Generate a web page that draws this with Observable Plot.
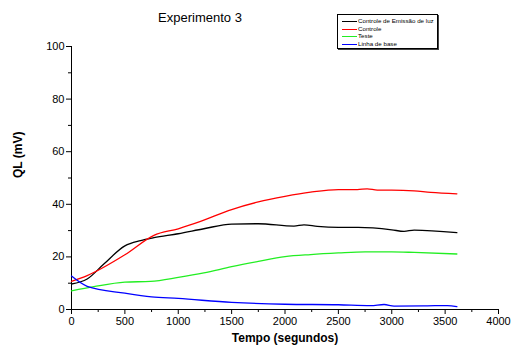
<!DOCTYPE html>
<html>
<head>
<meta charset="utf-8">
<script src="https://cdn.jsdelivr.net/npm/d3@7"></script>
<script src="https://cdn.jsdelivr.net/npm/@observablehq/plot@0.6"></script>
<style>
  body { margin: 0; background: #fff; font-family: "Liberation Sans", Arial, sans-serif; }
  #wrap { position: relative; width: 512px; height: 351px; }
  #title { position: absolute; left: 0; width: 400px; top: 10px; text-align: center; font-size: 13px; color: #000; }
  #legend { position: absolute; left: 337px; top: 14px; width: 99px; height: 33px; border: 1px solid #000;
            box-shadow: 1px 1px 0 #444; font-size: 6.2px; background: #fff; }
  .row { position: absolute; left: 4px; height: 8px; line-height: 8px; white-space: nowrap; }
  .sw { display: inline-block; width: 15px; height: 0; border-top: 1.2px solid; vertical-align: middle; margin-right: 1px; }
</style>
</head>
<body>
<div id="wrap">
  <div id="title">Experimento 3</div>
  <div id="legend"></div>
</div>
<script>
// Time samples (s) and readings (mV) for each series
const tempoControleEmissao = [0, 147, 303, 500, 647, 772, 1000, 1240, 1500, 1750, 2084, 2178, 2303, 2500, 2687, 3000, 3115, 3210, 3610];
const controleEmissao      = [9.7, 11.6, 17.3, 24.2, 26.2, 27.3, 28.8, 30.7, 32.5, 32.6, 31.7, 32.2, 31.6, 31.2, 31.2, 30.3, 29.7, 30.2, 29.2];

const tempoControle = [0, 147, 500, 772, 1000, 1209, 1500, 1750, 2000, 2240, 2500, 2678, 2770, 2865, 3000, 3210, 3365, 3610];
const controle      = [10.7, 12.9, 20.8, 28.2, 30.7, 33.5, 38.0, 40.9, 43.0, 44.6, 45.6, 45.6, 45.9, 45.4, 45.4, 45.1, 44.5, 44.0];

const tempoTeste = [0, 210, 500, 740, 1000, 1240, 1500, 1750, 2000, 2240, 2500, 2750, 3000, 3210, 3610];
const teste      = [7.1, 8.7, 10.4, 10.7, 12.2, 13.9, 16.3, 18.3, 20.1, 20.9, 21.5, 21.9, 21.9, 21.7, 21.1];

const tempoBase = [0, 147, 500, 750, 1000, 1500, 2000, 2500, 2803, 2928, 3022, 3334, 3522, 3610];
const linhaBase = [12.7, 8.8, 6.2, 4.8, 4.2, 2.7, 2.0, 1.8, 1.5, 1.9, 1.3, 1.4, 1.5, 1.1];

const seriesNames  = ["Controle de Emissão de luz", "Controle", "Teste", "Linha de base"];
const seriesColors = ["#000000", "#ff0000", "#22ee22", "#0000ff"];

const xTicks = [0, 500, 1000, 1500, 2000, 2500, 3000, 3500, 4000];
const xMinor = [250, 750, 1250, 1750, 2250, 2750, 3250, 3750];
const yTicks = [0, 20, 40, 60, 80, 100];
const yMinor = [10, 30, 50, 70, 90];

const toRows = (ts, vs, name) => ts.map((t, i) => ({t, v: vs[i], name}));
const data = [
  ...toRows(tempoControleEmissao, controleEmissao, seriesNames[0]),
  ...toRows(tempoControle, controle, seriesNames[1]),
  ...toRows(tempoTeste, teste, seriesNames[2]),
  ...toRows(tempoBase, linhaBase, seriesNames[3])
];

const chart = Plot.plot({
  width: 512,
  height: 351,
  marginLeft: 71,
  marginRight: 14,
  marginTop: 46,
  marginBottom: 42,
  style: { fontFamily: "Liberation Sans, Arial, sans-serif", fontSize: "11px", background: "transparent" },
  x: { domain: [0, 4000] },
  y: { domain: [0, 100] },
  color: { domain: seriesNames, range: seriesColors },
  marks: [
    Plot.axisX({ ticks: xTicks, tickSize: 5, tickPadding: 3, fontSize: 11, tickFormat: d => String(d), label: null }),
    Plot.axisX({ ticks: xMinor, tickSize: 3, text: null, label: null }),
    Plot.axisY({ ticks: yTicks, tickSize: 5, tickPadding: 2, fontSize: 11, tickFormat: d => String(d), label: null }),
    Plot.axisY({ ticks: yMinor, tickSize: 3, text: null, label: null }),
    Plot.ruleX([0], { stroke: "#000", strokeWidth: 1 }),
    Plot.ruleY([0], { stroke: "#000", strokeWidth: 1 }),
    Plot.line(data, { x: "t", y: "v", z: "name", stroke: "name", strokeWidth: 1.3, curve: "monotone-x" }),
    Plot.text(["Tempo (segundos)"], { frameAnchor: "bottom", dy: 32, fontWeight: "bold", fontSize: 12 }),
    Plot.text(["QL (mV)"], { frameAnchor: "left", dx: -53, rotate: -90, fontWeight: "bold", fontSize: 12 })
  ]
});

const wrap = document.getElementById("wrap");
chart.style.position = "absolute";
chart.style.left = "0";
chart.style.top = "0";
wrap.insertBefore(chart, wrap.firstChild);

// Legend box entries
const legend = document.getElementById("legend");
seriesNames.forEach((name, i) => {
  const row = document.createElement("div");
  row.className = "row";
  row.style.top = (2 + i * 7.7) + "px";
  row.innerHTML = `<span class="sw" style="border-color:${seriesColors[i]}"></span>${name}`;
  legend.appendChild(row);
});
</script>
</body>
</html>
